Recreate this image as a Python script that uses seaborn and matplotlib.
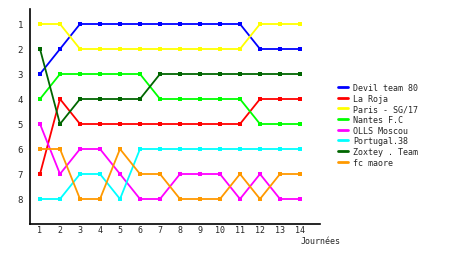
import matplotlib
matplotlib.use("Agg")
import matplotlib.pyplot as plt
import seaborn as sns
import pandas as pd

journees = list(range(1, 15))
teams = ["Devil team 80", "La Roja", "Paris - SG/17", "Nantes F.C",
         "OLLS Moscou", "Portugal.38", "Zoxtey . Team", "fc maore"]
colors = ["#0000ff", "#ff0000", "#ffff00", "#00ff00",
          "#ff00ff", "#00ffff", "#006600", "#ff9900"]
devil = [3, 2, 1, 1, 1, 1, 1, 1, 1, 1, 1, 2, 2, 2]
laroja = [7, 4, 5, 5, 5, 5, 5, 5, 5, 5, 5, 4, 4, 4]
paris = [1, 1, 2, 2, 2, 2, 2, 2, 2, 2, 2, 1, 1, 1]
nantes = [4, 3, 3, 3, 3, 3, 4, 4, 4, 4, 4, 5, 5, 5]
olls = [5, 7, 6, 6, 7, 8, 8, 7, 7, 7, 8, 7, 8, 8]
portugal = [8, 8, 7, 7, 8, 6, 6, 6, 6, 6, 6, 6, 6, 6]
zoxtey = [2, 5, 4, 4, 4, 4, 3, 3, 3, 3, 3, 3, 3, 3]
fcmaore = [6, 6, 8, 8, 6, 7, 7, 8, 8, 8, 7, 8, 7, 7]
series = [devil, laroja, paris, nantes, olls, portugal, zoxtey, fcmaore]

rows = []
for t, s in zip(teams, series):
    for j, r in zip(journees, s):
        rows.append({"team": t, "journee": j, "rang": r})
df = pd.DataFrame(rows)

sns.set_theme(style="white")
plt.rcParams["font.family"] = ["DejaVu Sans Mono"]

fig = plt.figure(figsize=(4.6, 2.55), dpi=100)
ax = fig.add_axes([30/460, 30/255, 290/460, 215/255])
sns.lineplot(data=df, x="journee", y="rang", hue="team", hue_order=teams,
             palette=colors, marker="s", markersize=3, markeredgewidth=0,
             linewidth=1.3, ax=ax, legend=False)

ax.set_xlim(0.5, 15)
ax.set_ylim(9, 0.4)
ax.set_xticks(journees)
ax.set_yticks(range(1, 9))
ax.tick_params(axis="x", length=0, labelsize=6, pad=1)
ax.tick_params(axis="y", length=0, labelsize=6.5, pad=5)
for sp in ["top", "right"]:
    ax.spines[sp].set_visible(False)
for sp in ["left", "bottom"]:
    ax.spines[sp].set_color("black")
    ax.spines[sp].set_linewidth(1.2)
ax.set_xlabel("")
ax.set_ylabel("")
fig.text(301/460, 1 - 242/255, "Journées", fontsize=6, va="center", ha="left")

handles = [plt.Line2D([0], [0], color=c, lw=2) for c in colors]
fig.legend(handles, teams, loc="upper left",
           bbox_to_anchor=(338/460, 1 - 84/255), frameon=False,
           fontsize=6, handlelength=1.2, handletextpad=0.6,
           labelspacing=0.2, borderaxespad=0, borderpad=0)

fig.savefig("out.png", dpi=100)
